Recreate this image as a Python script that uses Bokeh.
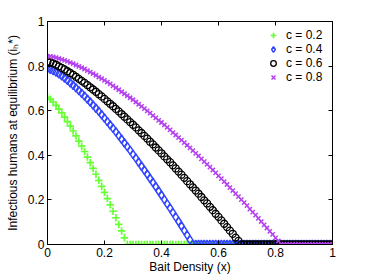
from bokeh.plotting import figure
from bokeh.models import Range1d, FixedTicker, LinearAxis, Legend, LegendItem
from bokeh.embed import file_html
from bokeh.resources import INLINE

# ---- data ----
x = [round(0.01 * i, 2) for i in range(101)]

c02_nonzero = [0.660, 0.651, 0.639, 0.624, 0.607, 0.590, 0.571, 0.551, 0.531, 0.509,
               0.487, 0.464, 0.441, 0.417, 0.392, 0.367, 0.341, 0.315, 0.288, 0.261,
               0.234, 0.206, 0.178, 0.149, 0.120, 0.090, 0.061, 0.030, 0.0]
c04_nonzero = [0.790, 0.786, 0.780, 0.773, 0.765, 0.756, 0.746, 0.736, 0.725, 0.714,
               0.702, 0.690, 0.678, 0.665, 0.652, 0.639, 0.625, 0.611, 0.597, 0.582,
               0.567, 0.551, 0.536, 0.521, 0.505, 0.488, 0.472, 0.455, 0.439, 0.422,
               0.404, 0.387, 0.369, 0.351, 0.333, 0.315, 0.296, 0.278, 0.259, 0.240,
               0.221, 0.201, 0.182, 0.163, 0.143, 0.123, 0.103, 0.083, 0.062, 0.042,
               0.021, 0.0]
c06_nonzero = [0.820, 0.817, 0.812, 0.806, 0.799, 0.792, 0.785, 0.777, 0.769, 0.761,
               0.752, 0.743, 0.734, 0.725, 0.715, 0.705, 0.695, 0.685, 0.674, 0.664,
               0.653, 0.642, 0.631, 0.620, 0.608, 0.597, 0.585, 0.573, 0.561, 0.549,
               0.537, 0.525, 0.512, 0.500, 0.487, 0.475, 0.461, 0.449, 0.435, 0.422,
               0.409, 0.395, 0.382, 0.369, 0.355, 0.341, 0.327, 0.313, 0.299, 0.284,
               0.270, 0.256, 0.242, 0.228, 0.213, 0.198, 0.184, 0.169, 0.154, 0.138,
               0.124, 0.108, 0.093, 0.078, 0.062, 0.048, 0.031, 0.016, 0.0]
c08_nonzero = [0.845, 0.844, 0.841, 0.838, 0.834, 0.830, 0.826, 0.821, 0.816, 0.811,
               0.805, 0.799, 0.793, 0.787, 0.780, 0.773, 0.766, 0.759, 0.751, 0.744,
               0.736, 0.728, 0.720, 0.711, 0.703, 0.694, 0.685, 0.676, 0.667, 0.658,
               0.649, 0.639, 0.629, 0.619, 0.609, 0.599, 0.589, 0.578, 0.568, 0.557,
               0.547, 0.536, 0.525, 0.514, 0.502, 0.491, 0.479, 0.468, 0.457, 0.445,
               0.433, 0.421, 0.409, 0.397, 0.384, 0.372, 0.359, 0.347, 0.334, 0.321,
               0.308, 0.295, 0.282, 0.269, 0.255, 0.242, 0.228, 0.215, 0.201, 0.188,
               0.174, 0.159, 0.145, 0.132, 0.117, 0.103, 0.088, 0.074, 0.059, 0.045,
               0.030, 0.016, 0.0]

c02 = c02_nonzero + [0.0] * (101 - len(c02_nonzero))
c04 = c04_nonzero + [0.0] * (101 - len(c04_nonzero))
c06 = c06_nonzero + [0.0] * (101 - len(c06_nonzero))
c08 = c08_nonzero + [0.0] * (101 - len(c08_nonzero))

series_labels = ["c = 0.2", "c = 0.4", "c = 0.6", "c = 0.8"]
ticks = [0, 0.2, 0.4, 0.6, 0.8, 1]
tick_labels = ["0", "0.2", "0.4", "0.6", "0.8", "1"]
x_label = "Bait Density (x)"
y_label = "Infectious humans at equilibrium (i\u2095*)"

FONT = "Liberation Sans"

p = figure(output_backend="svg", toolbar_location=None,
           x_range=Range1d(0, 1), y_range=Range1d(0, 1),
           frame_width=285, frame_height=223,
           min_border_left=47, min_border_right=30, min_border_top=21, min_border_bottom=30)
p.xgrid.visible = False
p.ygrid.visible = False
p.outline_line_color = "black"
p.outline_line_width = 1
p.background_fill_color = "white"
p.border_fill_color = "white"

overrides = {t: l for t, l in zip(ticks, tick_labels)}

for ax in (p.xaxis[0], p.yaxis[0]):
    ax.ticker = FixedTicker(ticks=ticks)
    ax.major_label_overrides = overrides
    ax.major_tick_in = 4
    ax.major_tick_out = 0
    ax.minor_tick_line_color = None
    ax.axis_line_color = "black"
    ax.major_tick_line_color = "black"
    ax.major_label_text_font = FONT
    ax.major_label_text_font_size = "12px"
    ax.major_label_text_color = "black"
    ax.axis_label_text_font = FONT
    ax.axis_label_text_font_size = "12px"
    ax.axis_label_text_font_style = "normal"
    ax.axis_label_text_color = "black"

p.xaxis[0].axis_label = x_label
p.yaxis[0].axis_label = y_label
p.xaxis[0].major_label_standoff = 3
p.xaxis[0].axis_label_standoff = 0
p.yaxis[0].major_label_standoff = 3
p.yaxis[0].axis_label_standoff = 5

for side in ("above", "right"):
    ax = LinearAxis(ticker=FixedTicker(ticks=ticks), major_tick_in=4, major_tick_out=0,
                    minor_tick_line_color=None, axis_line_color="black",
                    major_label_text_font_size="0px", major_label_text_alpha=0,
                    major_label_standoff=0)
    p.add_layout(ax, side)

r1 = p.scatter(x, c02, marker="cross", size=7.5, line_color="#66ff33", line_width=1.7)
r2 = p.scatter(x, c04, marker="diamond", size=8.5, line_color="#3346ff", fill_color=None, line_width=1.5)
r3 = p.scatter(x, c06, marker="circle", size=7, line_color="black", fill_color=None, line_width=1.3)
r4 = p.scatter(x, c08, marker="x", size=6, line_color="#b440f0", line_width=1.5)

legend = Legend(items=[LegendItem(label=series_labels[0], renderers=[r1]),
                       LegendItem(label=series_labels[1], renderers=[r2]),
                       LegendItem(label=series_labels[2], renderers=[r3]),
                       LegendItem(label=series_labels[3], renderers=[r4])],
                location=(219, 160), glyph_width=14, glyph_height=14, label_height=14,
                label_standoff=6, spacing=0, padding=0, margin=0,
                border_line_color=None, background_fill_alpha=0,
                label_text_font=FONT, label_text_font_size="12px", label_text_color="black")
p.add_layout(legend, "center")

open("out.html", "w").write(file_html(p, INLINE))
